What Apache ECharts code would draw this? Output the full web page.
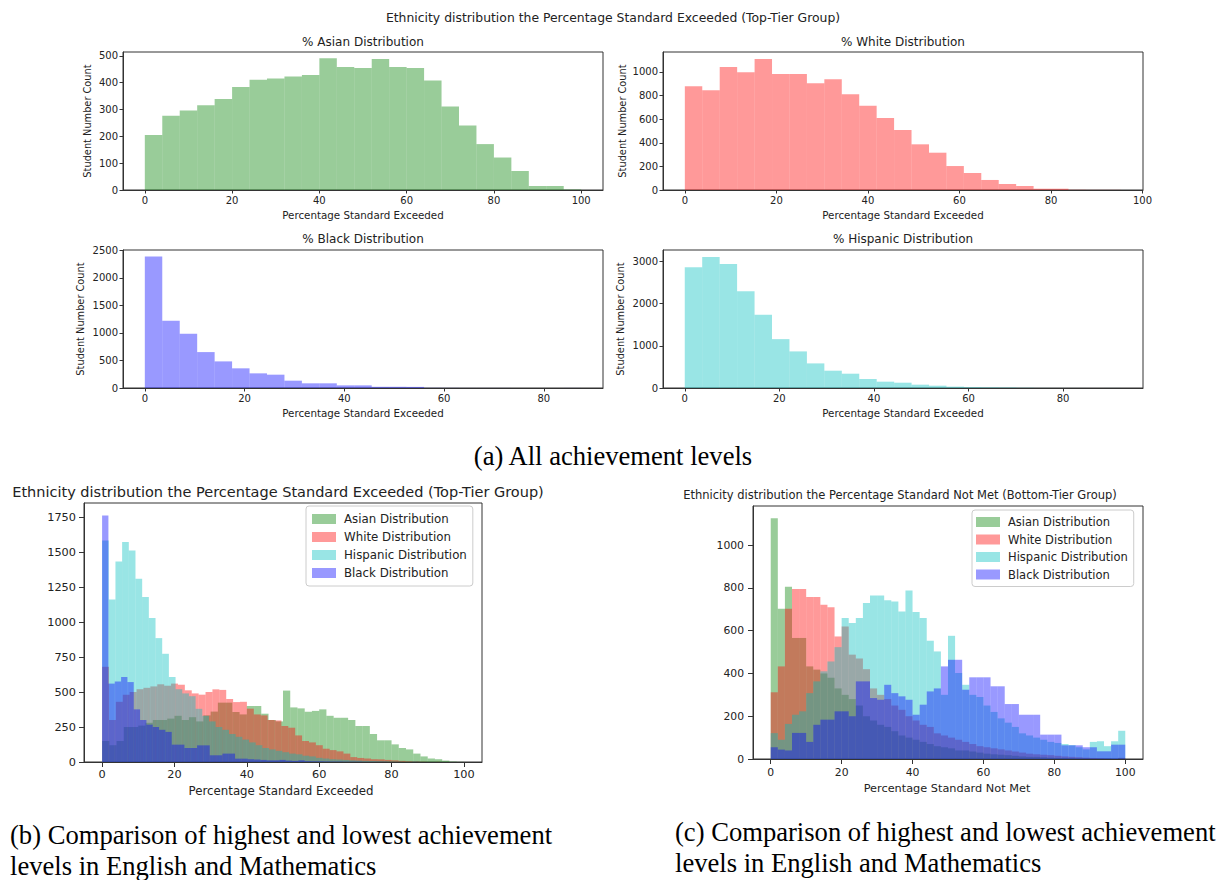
<!DOCTYPE html>
<html><head><meta charset="utf-8">
<script src="https://cdn.jsdelivr.net/npm/echarts@6/dist/echarts.min.js"></script>
<style>html,body{margin:0;padding:0;background:#fff}#c{width:1231px;height:880px}</style>
</head><body><div id="c"></div>
<script>
// ---------------- DATA ----------------
// (a) top-tier group, 25 bins per ethnicity
const asianTopBin = 4.0;
const asianTop = [205, 277, 296, 316, 339, 384, 411, 415, 423, 428, 491, 458, 454, 488, 458, 454, 408, 311, 240, 171, 121, 71, 15, 15, 2];
const whiteTopBin = 3.81;
const whiteTop = [878, 845, 1042, 997, 1110, 983, 983, 904, 938, 811, 714, 610, 508, 387, 316, 203, 144, 85, 51, 34, 11, 11, 2, 1, 1];
const blackTopBin = 3.5;
const blackTop = [2386, 1220, 984, 652, 483, 357, 266, 242, 133, 85, 85, 48, 48, 22, 22, 20, 3, 2, 1, 1, 1, 0, 0, 0, 1];
const hispTopBin = 3.69;
const hispTop = [2861, 3104, 2939, 2293, 1733, 1158, 867, 583, 410, 339, 213, 150, 126, 79, 55, 32, 20, 15, 12, 3, 2, 1, 1, 0, 1];

// (b) Percentage Standard Exceeded, 50 bins per ethnicity
const asianBBin = 2.0;
const asianB = [150, 120, 150, 250, 250, 260, 280, 300, 300, 310, 330, 300, 320, 290, 333, 360, 424, 424, 357, 340, 400, 400, 345, 300, 290,
                510, 390, 383, 359, 365, 376, 330, 316, 316, 300, 257, 257, 200, 155, 155, 126, 100, 90, 60, 40, 25, 20, 10, 3, 1];
const whiteBBin = 1.906;
const whiteB = [680, 300, 430, 480, 500, 520, 530, 540, 555, 545, 560, 552, 512, 490, 481, 500, 519, 515, 450, 428,
                430, 381, 340, 333, 300, 297, 257, 245, 190, 150, 140, 120, 95, 85, 76, 60, 35, 29, 25, 20,
                19, 15, 12, 8, 5, 3, 2, 1, 1, 0];
const hispBBin = 1.846;
const hispB = [1583, 1161, 1433, 1571, 1511, 1309, 1178, 1028, 885, 773, 607, 520, 490, 470, 380, 330, 290, 250, 230, 200,
               180, 160, 140, 120, 100, 90, 80, 70, 60, 55, 45, 40, 30, 25, 20, 18, 15, 12, 10, 8,
               7, 6, 5, 4, 3, 2, 2, 1, 1, 1];
const blackBBin = 1.75;
const blackB = [1760, 560, 575, 607, 571, 376, 300, 267, 250, 230, 215, 124, 124, 100, 100, 119, 119, 48, 48, 60,
                60, 24, 24, 20, 18, 15, 12, 12, 15, 10, 8, 12, 6, 5, 5, 4, 3, 3, 2, 2,
                2, 1, 1, 1, 1, 0, 0, 0, 0, 1];

// (c) Percentage Standard Not Met, 50 bins of width 2
const cBin = 2.0;
const asianC = [1126, 703, 805, 566, 566, 433, 418, 400, 380, 330, 300, 280, 250, 200, 180, 160, 150, 130, 110, 100,
                90, 80, 70, 60, 55, 50, 40, 40, 35, 30, 25, 22, 20, 18, 15, 12, 10, 10, 8, 6,
                5, 5, 4, 3, 3, 2, 2, 2, 1, 5];
const whiteC = [312, 433, 703, 795, 795, 757, 757, 721, 709, 573, 620, 488, 470, 420, 330, 300, 280, 250, 230, 200,
                180, 160, 150, 120, 110, 100, 90, 80, 70, 60, 55, 50, 45, 40, 35, 30, 25, 22, 20, 18,
                15, 12, 10, 8, 6, 5, 4, 3, 2, 5];
const hispC = [121, 90, 164, 207, 223, 308, 363, 410, 456, 523, 659, 636, 659, 729, 765, 765, 742, 737, 690, 788,
               687, 659, 553, 503, 300, 576, 402, 347, 300, 290, 250, 220, 190, 170, 150, 120, 110, 100, 90, 80,
               75, 70, 65, 55, 45, 80, 83, 60, 83, 132];
const blackC = [55, 44, 40, 122, 122, 80, 160, 184, 184, 223, 223, 200, 363, 363, 285, 277, 347, 308, 293, 277,
                207, 254, 316, 330, 433, 464, 464, 324, 382, 382, 382, 340, 340, 257, 257, 207, 207, 207, 114, 114,
                114, 64, 64, 64, 55, 55, 36, 36, 67, 67];

// tick labels
const xTicks100 = [0, 20, 40, 60, 80, 100];
const xTicks80 = [0, 20, 40, 60, 80];
const yTicksAsianTop = [0, 100, 200, 300, 400, 500];
const yTicksWhiteTop = [0, 200, 400, 600, 800, 1000];
const yTicksBlackTop = [0, 500, 1000, 1500, 2000, 2500];
const yTicksHispTop = [0, 1000, 2000, 3000];
const yTicksB = [0, 250, 500, 750, 1000, 1250, 1500, 1750];
const yTicksC = [0, 200, 400, 600, 800, 1000];

const legendNames = ['Asian Distribution', 'White Distribution', 'Hispanic Distribution', 'Black Distribution'];

// ---------------- STYLE ----------------
const FONT = "'DejaVu Sans', sans-serif";
const SERIF = "'Liberation Serif', 'Times New Roman', serif";
const GREEN = 'rgba(0,128,0,0.4)';
const RED = 'rgba(255,0,0,0.4)';
const CYAN = 'rgba(0,191,191,0.4)';
const BLUE = 'rgba(0,0,255,0.4)';
const AX = '#333';
const TXT = '#222';

function hist(name, color, binW, values, g) {
  const data = values.map((v, i) => [i * binW, (i + 1) * binW, v]);
  return {
    type: 'custom', name: name, xAxisIndex: g, yAxisIndex: g,
    itemStyle: { color: color }, data: data, animation: false, silent: true,
    encode: { x: [0, 1], y: 2 },
    renderItem: function (params, api) {
      const p0 = api.coord([api.value(0), api.value(2)]);
      const p1 = api.coord([api.value(1), 0]);
      return { type: 'rect', shape: { x: p0[0], y: p0[1], width: p1[0] - p0[0], height: p1[1] - p0[1] },
               style: { fill: color } };
    }
  };
}

const plain = function (v) { return String(v); };
function xAx(g, min, max, ticks, fs, tl, mg) {
  return { type: 'value', gridIndex: g, min: min, max: max, splitLine: { show: false },
    axisLine: { show: true, onZero: false, lineStyle: { color: AX, width: 1 } },
    axisTick: { show: true, customValues: ticks, length: tl, lineStyle: { color: AX } },
    axisLabel: { customValues: ticks, formatter: plain, fontSize: fs, color: TXT, margin: mg, fontFamily: FONT } };
}
function yAx(g, max, ticks, fs, tl, mg) {
  return { type: 'value', gridIndex: g, min: 0, max: max, splitLine: { show: false },
    axisLine: { show: true, onZero: false, lineStyle: { color: AX, width: 1 } },
    axisTick: { show: true, customValues: ticks, length: tl, lineStyle: { color: AX } },
    axisLabel: { customValues: ticks, formatter: plain, fontSize: fs, color: TXT, margin: mg, fontFamily: FONT } };
}
function txt(x, y, s, fs, extra) {
  return { type: 'text', x: x, y: y, silent: true,
    style: Object.assign({ text: s, fontSize: fs, fontFamily: FONT, fill: TXT,
      align: 'center', verticalAlign: 'middle', textAlign: 'center', textVerticalAlign: 'middle' }, extra || {}) };
}
function vtxt(x, y, s, fs) {
  const o = txt(x, y, s, fs);
  o.rotation = Math.PI / 2;
  return o;
}
function cap(x, y, s, align) {
  return { type: 'text', x: x, y: y, silent: true,
    style: { text: s, fontSize: 26.6, fontFamily: SERIF, fill: '#000', align: align, verticalAlign: 'middle',
             textAlign: align, textVerticalAlign: 'middle' } };
}
function border() { return { show: true, borderColor: AX, borderWidth: 1, backgroundColor: 'transparent' }; }

const grids = [
  Object.assign({ left: 123, top: 52, width: 480, height: 138 }, border()),
  Object.assign({ left: 663, top: 52, width: 480, height: 138 }, border()),
  Object.assign({ left: 123, top: 250, width: 480, height: 138 }, border()),
  Object.assign({ left: 663, top: 250, width: 480, height: 138 }, border()),
  Object.assign({ left: 84, top: 503, width: 398, height: 259 }, border()),
  Object.assign({ left: 753, top: 506, width: 390, height: 253 }, border())
];

const xAxes = [
  xAx(0, -5, 105, xTicks100, 10, 3.5, 5),
  xAx(1, -4.77, 100.1, xTicks100, 10, 3.5, 5),
  xAx(2, -4.375, 91.875, xTicks80, 10, 3.5, 5),
  xAx(3, -4.6, 96.9, xTicks80, 10, 3.5, 5),
  xAx(4, -5, 105, xTicks100, 11.3, 5, 7),
  xAx(5, -5, 105, xTicks100, 10.8, 5, 8)
];
const yAxes = [
  yAx(0, 514, yTicksAsianTop, 10, 3.5, 5),
  yAx(1, 1169, yTicksWhiteTop, 10, 3.5, 5),
  yAx(2, 2505, yTicksBlackTop, 10, 3.5, 5),
  yAx(3, 3270, yTicksHispTop, 10, 3.5, 5),
  yAx(4, 1850, yTicksB, 11.3, 5, 8),
  yAx(5, 1183, yTicksC, 10.8, 5, 9)
];

const series = [
  hist('% Asian', GREEN, asianTopBin, asianTop, 0),
  hist('% White', RED, whiteTopBin, whiteTop, 1),
  hist('% Black', BLUE, blackTopBin, blackTop, 2),
  hist('% Hispanic', CYAN, hispTopBin, hispTop, 3),
  hist(legendNames[0], GREEN, asianBBin, asianB, 4),
  hist(legendNames[1], RED, whiteBBin, whiteB, 4),
  hist(legendNames[2], CYAN, hispBBin, hispB, 4),
  hist(legendNames[3], BLUE, blackBBin, blackB, 4),
  hist(legendNames[0], GREEN, cBin, asianC, 5),
  hist(legendNames[1], RED, cBin, whiteC, 5),
  hist(legendNames[2], CYAN, cBin, hispC, 5),
  hist(legendNames[3], BLUE, cBin, blackC, 5)
];

function legend(left, top, fs, lh, gap, pad) {
  return { orient: 'vertical', left: left, top: top, data: legendNames, icon: 'rect',
    itemWidth: 24, itemHeight: 10, itemGap: gap, padding: pad, selectedMode: false,
    backgroundColor: 'rgba(255,255,255,0.85)', borderColor: '#cccccc', borderWidth: 1, borderRadius: 3,
    textStyle: { fontSize: fs, lineHeight: lh, color: TXT, fontFamily: FONT, padding: [0, 0, 0, 3] } };
}

const graphics = [
  txt(613, 17, 'Ethnicity distribution the Percentage Standard Exceeded (Top-Tier Group)', 12.4),
  txt(363, 42, '% Asian Distribution', 12),
  txt(903, 42, '% White Distribution', 12),
  txt(363, 239, '% Black Distribution', 12),
  txt(903, 239, '% Hispanic Distribution', 12),
  txt(363, 215, 'Percentage Standard Exceeded', 10.3),
  txt(903, 215, 'Percentage Standard Exceeded', 10.3),
  txt(363, 413, 'Percentage Standard Exceeded', 10.3),
  txt(903, 413, 'Percentage Standard Exceeded', 10.3),
  vtxt(87, 121, 'Student Number Count', 9.8),
  vtxt(622, 121, 'Student Number Count', 9.8),
  vtxt(80, 319, 'Student Number Count', 9.8),
  vtxt(620, 319, 'Student Number Count', 9.8),
  txt(278, 492, 'Ethnicity distribution the Percentage Standard Exceeded (Top-Tier Group)', 14.5),
  txt(281, 791, 'Percentage Standard Exceeded', 11.8),
  txt(900, 495, 'Ethnicity distribution the Percentage Standard Not Met (Bottom-Tier Group)', 11.5),
  txt(947, 788, 'Percentage Standard Not Met', 11.3),
  cap(613, 456, '(a) All achievement levels', 'center'),
  cap(10, 835, '(b) Comparison of highest and lowest achievement', 'left'),
  cap(10, 866, 'levels in English and Mathematics', 'left'),
  cap(675, 832, '(c) Comparison of highest and lowest achievement', 'left'),
  cap(675, 863, 'levels in English and Mathematics', 'left')
];

const chart = echarts.init(document.getElementById('c'), null, { renderer: 'svg' });
chart.setOption({
  animation: false,
  backgroundColor: '#fff',
  grid: grids,
  xAxis: xAxes,
  yAxis: yAxes,
  series: series,
  legend: [legend(306, 506, 11.8, 14, 4, [6, 6, 6, 6]), legend(972, 510, 11.5, 13, 4.5, [5.5, 6, 5.5, 4])],
  graphic: graphics
});
</script></body></html>
